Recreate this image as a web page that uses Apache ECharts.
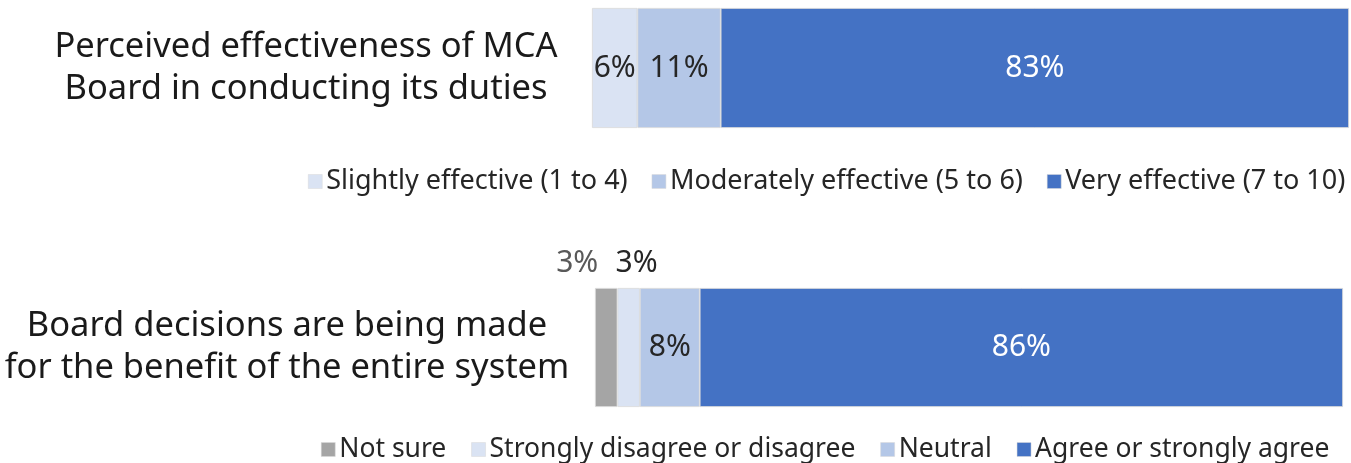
<!DOCTYPE html>
<html>
<head>
<meta charset="utf-8">
<script src="https://cdn.jsdelivr.net/npm/echarts@6/dist/echarts.min.js"></script>
<style>
  html, body { margin: 0; padding: 0; background: #fff; }
  #chart { width: 1351px; height: 463px; }
</style>
</head>
<body>
<div id="chart"></div>
<script>
const FONT = "Noto Sans";

// top chart: perceived effectiveness
const TOP_CATEGORY = ["Perceived effectiveness of MCA\nBoard in conducting its duties"];
const TOP_SERIES = ["Slightly effective (1 to 4)", "Moderately effective (5 to 6)", "Very effective (7 to 10)"];
const TOP_VALUES = [6, 11, 83];
const TOP_COLORS = ["#dae3f3", "#b4c7e7", "#4472c4"];
const TOP_LABEL_COLORS = ["#262626", "#262626", "#ffffff"];

// bottom chart: board decisions
const BOTTOM_CATEGORY = ["Board decisions are being made\nfor the benefit of the entire system"];
const BOTTOM_SERIES = ["Not sure", "Strongly disagree or disagree", "Neutral", "Agree or strongly agree"];
const BOTTOM_VALUES = [3, 3, 8, 86];
const BOTTOM_COLORS = ["#a5a5a5", "#dae3f3", "#b4c7e7", "#4472c4"];
const BOTTOM_LABEL_COLORS = ["#595959", "#262626", "#262626", "#ffffff"];

const chart = echarts.init(document.getElementById("chart"));

function barSeries(names, values, colors, labelColors, axisIdx, outsideLabels) {
  return names.map((name, i) => {
    const outside = outsideLabels && outsideLabels[i];
    return {
      name: name,
      type: "bar",
      stack: "s" + axisIdx,
      xAxisIndex: axisIdx,
      yAxisIndex: axisIdx,
      barWidth: "100%",
      itemStyle: { color: colors[i], borderColor: "#d9d9d9", borderWidth: 0.8 },
      label: {
        show: true,
        position: outside ? "top" : "inside",
        offset: outside ? outside : [0, 0],
        distance: 10,
        formatter: "{c}%",
        color: labelColors[i],
        fontFamily: FONT,
        fontSize: 30,
      },
      data: [values[i]],
    };
  });
}

const yLabel = (margin) => ({
  color: "#1a1a1a",
  fontFamily: FONT,
  fontSize: 34.5,
  lineHeight: 42,
  align: "center",
  margin: margin,
});

const legendStyle = (size, gap) => ({
  icon: "rect",
  itemWidth: 14,
  itemHeight: 14,
  itemGap: gap,
  padding: 0,
  width: 1200,
  itemStyle: { borderColor: "#d9d9d9", borderWidth: 0.5 },
  textStyle: { color: "#262626", fontFamily: FONT, fontSize: size, padding: [0, 0, 0, -1] },
});

chart.setOption({
  animation: false,
  grid: [
    { left: 592, right: 2, top: 8, height: 120 },
    { left: 595, right: 8, top: 288, height: 119 },
  ],
  xAxis: [
    { gridIndex: 0, type: "value", min: 0, max: 100, show: false },
    { gridIndex: 1, type: "value", min: 0, max: 100, show: false },
  ],
  yAxis: [
    {
      gridIndex: 0, type: "category", data: TOP_CATEGORY,
      axisLine: { show: false }, axisTick: { show: false },
      axisLabel: yLabel(286),
    },
    {
      gridIndex: 1, type: "category", data: BOTTOM_CATEGORY,
      axisLine: { show: false }, axisTick: { show: false },
      axisLabel: yLabel(308),
    },
  ],
  legend: [
    { ...legendStyle(27, 24), data: TOP_SERIES, left: 308, top: 168 },
    { ...legendStyle(26.5, 25), data: BOTTOM_SERIES, left: 321, top: 436 },
  ],
  series: [
    ...barSeries(TOP_SERIES, TOP_VALUES, TOP_COLORS, TOP_LABEL_COLORS, 0),
    ...barSeries(BOTTOM_SERIES, BOTTOM_VALUES, BOTTOM_COLORS, BOTTOM_LABEL_COLORS, 1, [[-29, 0], [8, 0], null, null]),
  ],
});

window.addEventListener("resize", () => chart.resize());
</script>
</body>
</html>
